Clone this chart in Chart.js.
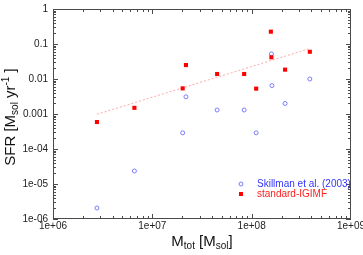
<!DOCTYPE html>
<html><head><meta charset="utf-8">
<script src="https://cdn.jsdelivr.net/npm/chart.js@4/dist/chart.umd.min.js"></script>
<style>html,body{margin:0;padding:0;background:#fff}#wrap{width:363px;height:255px}</style>
</head><body><div id="wrap"><canvas id="c" width="363" height="255"></canvas></div>
<script>
const skillmanMass = [2.77e6, 6.6e6, 2.02e7, 2.18e7, 4.49e7, 8.4e7, 1.11e8, 1.58e8, 1.6e8, 2.17e8, 3.85e8];
const skillmanSFR  = [2.06e-6, 2.35e-5, 2.9e-4, 3.1e-3, 1.3e-3, 1.3e-3, 2.9e-4, 0.052, 0.0065, 0.002, 0.01];
const igimfMass = [2.77e6, 6.6e6, 2.02e7, 2.18e7, 4.49e7, 8.4e7, 1.11e8, 1.56e8, 1.58e8, 2.17e8, 3.85e8];
const igimfSFR  = [5.9e-4, 1.5e-3, 0.0054, 0.025, 0.0139, 0.0139, 0.0053, 0.225, 0.0417, 0.0185, 0.060];
const fitMass = [2.77e6, 3.72e8];
const fitSFR  = [9.8e-4, 0.072];
const xTickValues = [1e6, 1e7, 1e8, 1e9];
const xTickLabels = ['1e+06', '1e+07', '1e+08', '1e+09'];
const yTickValues = [1e-6, 1e-5, 1e-4, 1e-3, 1e-2, 1e-1, 1];
const yTickLabels = ['1e-06', '1e-05', '1e-04', '0.001', '0.01', '0.1', '1'];
const seriesNames = ['Skillman et al. (2003)', 'standard-IGIMF'];

const FONT = '"Liberation Sans", Arial, sans-serif';
const BLUE = '#7b7bff', RED = '#ff0000';

function pts(xs, ys){ return xs.map((x,i)=>({x:x, y:ys[i]})); }

function drawRich(ctx, parts, x, y){
  // parts: [text, size, dy]
  let w = 0;
  parts.forEach(p=>{ ctx.font = p[1]+'px '+FONT; w += ctx.measureText(p[0]).width; });
  let cx = x - w/2;
  ctx.textAlign = 'left'; ctx.textBaseline = 'alphabetic';
  parts.forEach(p=>{ ctx.font = p[1]+'px '+FONT; ctx.fillText(p[0], cx, y + p[2]); cx += ctx.measureText(p[0]).width; });
}

const deco = {
  id: 'deco',
  afterDraw(chart){
    const ctx = chart.ctx, a = chart.chartArea;
    const xs = chart.scales.x, ys = chart.scales.y;
    ctx.save();
    ctx.strokeStyle = '#4a4a4a'; ctx.lineWidth = 1;
    ctx.strokeRect(a.left+0.5, a.top+0.5, a.right-a.left-1, a.bottom-a.top-1);
    ctx.beginPath();
    // x ticks
    for (let d=6; d<9; d++){
      for (let m=1; m<=9; m++){
        const v = m*Math.pow(10,d);
        const px = Math.round(xs.getPixelForValue(v))+0.5;
        const L = (m===1)?5:3;
        ctx.moveTo(px, a.bottom); ctx.lineTo(px, a.bottom-L);
        ctx.moveTo(px, a.top); ctx.lineTo(px, a.top+L);
      }
    }
    // y ticks
    for (let d=-6; d<0; d++){
      for (let m=1; m<=9; m++){
        const v = m*Math.pow(10,d);
        const py = Math.round(ys.getPixelForValue(v))+0.5;
        const L = (m===1)?5:3;
        ctx.moveTo(a.left, py); ctx.lineTo(a.left+L, py);
        ctx.moveTo(a.right, py); ctx.lineTo(a.right-L, py);
      }
    }
    ctx.stroke();
    // tick labels
    ctx.fillStyle = '#222';
    ctx.font = '10px '+FONT;
    ctx.textAlign = 'right'; ctx.textBaseline = 'middle';
    yTickValues.forEach((v,i)=>{ ctx.fillText(yTickLabels[i], a.left-5, ys.getPixelForValue(v)); });
    ctx.textAlign = 'center';
    xTickValues.forEach((v,i)=>{ ctx.fillText(xTickLabels[i], xs.getPixelForValue(v), a.bottom+7); });
    // axis titles
    ctx.fillStyle = '#111';
    drawRich(ctx, [['M',15,0],['tot',10,3],[' [M',15,0],['sol',10,3],[']',15,0]], (a.left+a.right)/2, 245.5);
    ctx.save();
    ctx.translate(15, (a.top+a.bottom)/2 + 3);
    ctx.rotate(-Math.PI/2);
    drawRich(ctx, [['SFR [M',15,0],['sol',10,3],[' yr',15,0],['-1',10,-6],[' ]',15,0]], 0, 0);
    ctx.restore();
    // legend
    const lx = 241, ly1 = 184, ly2 = 194;
    ctx.strokeStyle = BLUE; ctx.lineWidth = 1;
    ctx.beginPath(); ctx.arc(lx, ly1, 2, 0, Math.PI*2); ctx.stroke();
    ctx.fillStyle = RED; ctx.fillRect(lx-2, ly2-2, 4, 4);
    ctx.font = '10px '+FONT; ctx.textAlign = 'left'; ctx.textBaseline = 'middle';
    ctx.fillStyle = '#3434ff'; ctx.fillText(seriesNames[0], 257, ly1);
    ctx.fillStyle = '#ff2020'; ctx.fillText(seriesNames[1], 257, ly2);
    ctx.restore();
  }
};

new Chart(document.getElementById('c'), {
  type: 'scatter',
  data: {
    datasets: [
      { type: 'line', label: 'fit', data: pts(fitMass, fitSFR), borderColor: 'rgba(255,140,140,0.75)', borderWidth: 1, borderDash: [2,2], pointRadius: 0, fill: false, order: 3 },
      { label: seriesNames[0], data: pts(skillmanMass, skillmanSFR), pointStyle: 'circle', pointRadius: 2, borderColor: BLUE, backgroundColor: 'rgba(0,0,0,0)', borderWidth: 1, order: 2 },
      { label: seriesNames[1], data: pts(igimfMass, igimfSFR), pointStyle: 'rect', pointRadius: 2.9, borderWidth: 0, borderColor: RED, backgroundColor: RED, order: 1 }
    ]
  },
  options: {
    responsive: false, animation: false, events: [],
    layout: { padding: { top: 9, right: 12, left: 0, bottom: 0 } },
    plugins: { legend: { display: false }, tooltip: { enabled: false } },
    scales: {
      x: { type: 'logarithmic', min: 1e6, max: 1e9, position: 'bottom',
           ticks: { display: false }, grid: { display: false }, border: { display: false },
           afterFit(s){ s.height = 36; } },
      y: { type: 'logarithmic', min: 1e-6, max: 1, position: 'left',
           ticks: { display: false }, grid: { display: false }, border: { display: false },
           afterFit(s){ s.width = 53; } }
    }
  },
  plugins: [deco]
});
</script></body></html>
